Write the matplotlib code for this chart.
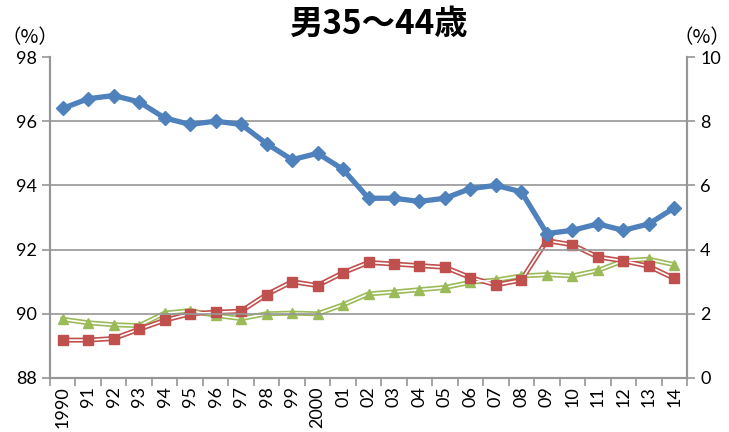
import matplotlib
matplotlib.use('Agg')
import matplotlib.pyplot as plt
import numpy as np

# data
years = ['1990', '91', '92', '93', '94', '95', '96', '97', '98', '99', '2000', '01',
         '02', '03', '04', '05', '06', '07', '08', '09', '10', '11', '12', '13', '14']
blue = [96.4, 96.7, 96.8, 96.6, 96.1, 95.9, 96.0, 95.9, 95.3, 94.8, 95.0, 94.5,
        93.6, 93.6, 93.5, 93.6, 93.9, 94.0, 93.8, 92.5, 92.6, 92.8, 92.6, 92.8, 93.3]
red = [1.18, 1.18, 1.23, 1.52, 1.8, 2.0, 2.05, 2.08, 2.6, 3.0, 2.88, 3.28,
       3.6, 3.55, 3.5, 3.45, 3.13, 2.9, 3.05, 4.28, 4.15, 3.77, 3.65, 3.48, 3.1]
green = [1.83, 1.72, 1.66, 1.63, 2.02, 2.1, 1.95, 1.85, 2.0, 2.02, 2.0, 2.28,
         2.62, 2.68, 2.75, 2.82, 2.98, 3.05, 3.18, 3.22, 3.18, 3.35, 3.65, 3.7, 3.53]
left_ticks = [88, 90, 92, 94, 96, 98]
right_ticks = [0, 2, 4, 6, 8, 10]

c_blue = '#4F81BD'
c_red = '#C0504D'
c_green = '#9BBB59'
grid_c = '#969696'

plt.rcParams['font.family'] = ['Lato', 'Noto Sans CJK JP', 'DejaVu Sans']

fig = plt.figure(figsize=(7.29, 4.32), dpi=100)
ax = fig.add_axes([50/729, 1-378/432, 637/729, 321/432])
ax2 = ax.twinx()
ax.set_zorder(ax2.get_zorder() + 1)
ax.patch.set_visible(False)

x = np.arange(len(years))

# double lines: coloured line with thin white core
for vals, col, mk in [(green, c_green, '^'), (red, c_red, 's')]:
    ax2.plot(x, vals, color=col, lw=3.6, zorder=2)
    ax2.plot(x, vals, color='white', lw=1.2, zorder=3)
    ax2.plot(x, vals, ls='none', marker=mk, ms=7, color=col, zorder=4)

ax.plot(x, blue, color=c_blue, lw=3.8, marker='D', ms=7.5, zorder=5)

ax.set_xlim(-0.5, len(years) - 0.5)
ax.set_ylim(88, 98)
ax2.set_ylim(0, 10)
ax.set_yticks(left_ticks)
ax2.set_yticks(right_ticks)
for t in left_ticks[1:-1]:
    ax.axhline(t, color=grid_c, lw=1.2, zorder=1)

ax.set_xticks(x)
ax.set_xticklabels(years, rotation=90, fontsize=13)
ax.set_xticks(np.arange(len(years) + 1) - 0.5, minor=True)
ax.tick_params(axis='x', which='major', length=0, pad=6)
ax.tick_params(axis='x', which='minor', length=6, color=grid_c, width=1.2)
ax.tick_params(axis='y', labelsize=13, length=6, color=grid_c, width=1.2)
ax2.tick_params(axis='y', labelsize=13, length=6, color=grid_c, width=1.2)

for a in (ax, ax2):
    a.spines['top'].set_visible(False)
    for s in ('left', 'right', 'bottom'):
        a.spines[s].set_color(grid_c)
        a.spines[s].set_linewidth(1.5)

fig.text(378/729, 1-24/432, '男35〜44歳', ha='center', va='center', fontsize=24,
         fontweight='bold', family=['Noto Sans CJK JP', 'DejaVu Sans'])
fig.text(30/729, 1-38/432, '（%）', ha='center', va='center', fontsize=14,
         family=['Noto Sans CJK JP', 'DejaVu Sans'])
fig.text(702/729, 1-38/432, '（%）', ha='center', va='center', fontsize=14,
         family=['Noto Sans CJK JP', 'DejaVu Sans'])

fig.savefig('out.png', dpi=100)
